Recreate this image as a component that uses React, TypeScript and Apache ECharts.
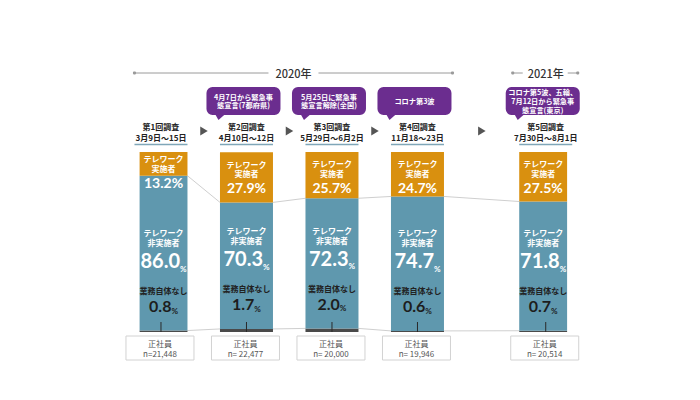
import React, { useEffect, useRef } from 'react';
import * as echarts from 'echarts';

const surveyNames = ['第1回調査', '第2回調査', '第3回調査', '第4回調査', '第5回調査'];
const surveyPeriods = ['3月9日～15日', '4月10日～12日', '5月29日～6月2日', '11月18～23日', '7月30日～8月1日'];
const surveySlots = [0, 1, 2, 3, 4.5];
const teleworkYes = [13.2, 27.9, 25.7, 24.7, 27.5];
const teleworkNo = [86.0, 70.3, 72.3, 74.7, 71.8];
const noWork = [0.8, 1.7, 2.0, 0.6, 0.7];
const respondentTypes = ['正社員', '正社員', '正社員', '正社員', '正社員'];
const sampleSizes = ['n=21,448', 'n= 22,477', 'n= 20,000', 'n= 19,946', 'n= 20,514'];
const events = [
  '',
  '4月7日から緊急事\n態宣言(7都府県)',
  '5月25日に緊急事\n態宣言解除(全国)',
  'コロナ第3波',
  'コロナ第5波、五輪、\n7月12日から緊急事\n態宣言(東京)',
];
const yearLabels = ['2020年', '2021年'];
const yearFirstSurvey = [0, 4];
const yearLastSurvey = [3, 4];

const ORANGE = '#D9900F';
const BLUE = '#5F98AE';
const DARK = '#4A4A4A';
const PURPLE = '#6B2D8F';
const CJK = "'Noto Sans CJK JP', sans-serif";
const NUM = "Lato, 'Noto Sans', sans-serif";
const BAR_W = 53;

export default function App() {
  const ref = useRef<HTMLDivElement>(null);

  useEffect(() => {
    if (!ref.current) return;
    const chart = echarts.init(ref.current, null, { renderer: 'svg' });
    const half = BAR_W / 2;

    // half-slot category axis so the gap before the 2021 survey is wider
    const slotIdx = surveySlots.map((s) => Math.round(s * 2));
    const nCats = slotIdx[slotIdx.length - 1] + 1;
    const cats = Array.from({ length: nCats }, (_, k) => {
      const si = slotIdx.indexOf(k);
      return si >= 0 ? surveyNames[si] : `gap${k}`;
    });
    const spread = (vals: number[]) =>
      Array.from({ length: nCats }, (_, k) => {
        const si = slotIdx.indexOf(k);
        return si >= 0 ? vals[si] : '-';
      });
    const sIdx = (p: any) => slotIdx.indexOf(p.dataIndex);

    const option: any = {
      animation: false,
      grid: { left: 139.6, right: 132.9, top: 152, bottom: 68 },
      xAxis: { type: 'category', data: cats, show: false },
      yAxis: { type: 'value', min: 0, max: 100, show: false },
      series: [
        {
          type: 'bar',
          stack: 'all',
          barWidth: BAR_W,
          itemStyle: { color: DARK },
          data: spread(noWork),
          label: {
            show: true,
            position: 'top',
            distance: 16,
            formatter: (p: any) => `{k|業務自体なし}\n{v|${noWork[sIdx(p)].toFixed(1)}}{p|%}`,
            rich: {
              k: { fontSize: 8, fontWeight: 'bold', color: '#222', fontFamily: CJK, lineHeight: 12, align: 'center' },
              v: { fontSize: 16, fontWeight: 'bold', color: '#1d1d1d', fontFamily: NUM, lineHeight: 18 },
              p: { fontSize: 8, fontWeight: 'bold', color: '#1d1d1d', fontFamily: NUM, lineHeight: 18, verticalAlign: 'bottom' },
            },
          },
          z: 2,
        },
        {
          type: 'bar',
          stack: 'all',
          barWidth: BAR_W,
          itemStyle: { color: BLUE },
          data: spread(teleworkNo),
          label: {
            show: true,
            position: 'insideBottom',
            distance: 58,
            formatter: (p: any) => `{t|テレワーク}\n{t|非実施者}\n{v|${teleworkNo[sIdx(p)].toFixed(1)}}{p|%}`,
            rich: {
              t: { fontSize: 8, fontWeight: 'bold', color: '#fff', fontFamily: CJK, lineHeight: 10, align: 'center' },
              v: { fontSize: 20, fontWeight: 'bold', color: '#fff', fontFamily: NUM, lineHeight: 25 },
              p: { fontSize: 8, fontWeight: 'bold', color: '#fff', fontFamily: NUM, lineHeight: 25, verticalAlign: 'bottom' },
            },
          },
          z: 2,
        },
        {
          type: 'bar',
          stack: 'all',
          barWidth: BAR_W,
          itemStyle: { color: ORANGE },
          data: spread(teleworkYes),
          label: {
            show: true,
            position: 'insideTop',
            distance: 2,
            formatter: (p: any) => {
              const v = teleworkYes[sIdx(p)];
              const lead = v < 20 ? '' : '{sp| }\n';
              return `${lead}{t|テレワーク}\n{t|実施者}\n{v|${v.toFixed(1)}%}`;
            },
            rich: {
              sp: { fontSize: 4, lineHeight: 5, color: 'rgba(0,0,0,0)' },
              t: { fontSize: 8, fontWeight: 'bold', color: '#fff', fontFamily: CJK, lineHeight: 9.8, align: 'center' },
              v: { fontSize: 14, fontWeight: 'bold', color: '#fff', fontFamily: NUM, lineHeight: 17, align: 'center' },
            },
          },
          z: 2,
        },
        {
          type: 'custom',
          z: 1,
          silent: true,
          encode: { x: [0, 1], y: [2, 3, 4, 5] },
          data: slotIdx.slice(0, -1).map((x, i) => [
            x,
            slotIdx[i + 1],
            noWork[i] + teleworkNo[i],
            noWork[i + 1] + teleworkNo[i + 1],
            noWork[i],
            noWork[i + 1],
          ]),
          renderItem: (params: any, api: any) => {
            const a1 = api.coord([api.value(0), api.value(2)]);
            const b1 = api.coord([api.value(1), api.value(3)]);
            const a2 = api.coord([api.value(0), api.value(4)]);
            const b2 = api.coord([api.value(1), api.value(5)]);
            const st = { stroke: '#cfcfcf', lineWidth: 1 };
            return {
              type: 'group',
              children: [
                { type: 'line', shape: { x1: a1[0] + half, y1: a1[1], x2: b1[0] - half, y2: b1[1] }, style: st },
                { type: 'line', shape: { x1: a2[0] + half, y1: a2[1], x2: b2[0] - half, y2: b2[1] }, style: st },
              ],
            };
          },
        },
        {
          type: 'custom',
          z: 5,
          silent: true,
          encode: { x: 0, y: 1 },
          data: slotIdx.map((x) => [x, 0]),
          renderItem: (params: any, api: any) => {
            const p = api.coord([api.value(0), api.value(1)]);
            return {
              type: 'line',
              shape: { x1: p[0], y1: p[1], x2: p[0], y2: p[1] - 10 },
              style: { stroke: '#2a2a2a', lineWidth: 1 },
            };
          },
        },
      ],
    };
    chart.setOption(option);

    const cx = slotIdx.map((x) => chart.convertToPixel({ xAxisIndex: 0 }, x) as number);
    const graphic: any[] = [];

    yearLabels.forEach((label, k) => {
      const f = yearFirstSurvey[k];
      const l = yearLastSurvey[k];
      let x0: number, x1: number, gapL: number, gapR: number, mid: number;
      if (f === l) {
        x0 = cx[f] - 33;
        x1 = cx[f] + 32;
        mid = cx[f];
        gapL = mid - 23;
        gapR = mid + 22;
      } else {
        x0 = cx[f] - half;
        x1 = cx[l] + 35;
        mid = (x0 + x1) / 2;
        gapL = mid - 25;
        gapR = mid + 25;
      }
      const y = 73;
      const st = { stroke: '#9a9a9a', lineWidth: 1 };
      graphic.push({ type: 'line', shape: { x1: x0, y1: y, x2: gapL, y2: y }, style: st });
      graphic.push({ type: 'line', shape: { x1: gapR, y1: y, x2: x1, y2: y }, style: st });
      graphic.push({ type: 'circle', shape: { cx: x0, cy: y, r: 1.6 }, style: { fill: '#9a9a9a' } });
      graphic.push({ type: 'circle', shape: { cx: x1, cy: y, r: 1.6 }, style: { fill: '#9a9a9a' } });
      graphic.push({
        type: 'text',
        x: mid,
        y: y,
        style: { text: label, fill: '#333', font: `500 11px ${CJK}`, align: 'center', verticalAlign: 'middle' },
      });
    });

    surveyNames.forEach((name, i) => {
      const c = cx[i];
      graphic.push({
        type: 'text',
        x: c,
        y: 132,
        style: {
          text: `${name}\n${surveyPeriods[i]}`,
          fill: '#222',
          font: `bold 8px ${CJK}`,
          lineHeight: 11,
          align: 'center',
          verticalAlign: 'middle',
        },
      });
      graphic.push({
        type: 'line',
        shape: { x1: c - half, y1: 144.5, x2: c + half, y2: 144.5 },
        style: { stroke: '#7FA6B8', lineWidth: 1.5 },
      });
      if (i > 0) {
        const ax = (cx[i - 1] + c) / 2;
        const ay = 131;
        graphic.push({
          type: 'polygon',
          shape: { points: [[ax - 3.5, ay - 4.5], [ax + 4, ay], [ax - 3.5, ay + 4.5]] },
          style: { fill: '#555' },
        });
      }
      if (events[i]) {
        const bw = 74;
        const bx = c - 3 - bw / 2;
        const by = 87;
        const bh = 28;
        graphic.push({
          type: 'rect',
          shape: { x: bx, y: by, width: bw, height: bh, r: 6 },
          style: { fill: PURPLE },
        });
        graphic.push({
          type: 'polygon',
          shape: { points: [[bx + 8, by + bh - 2], [bx + 20, by + bh - 2], [bx + 12, by + bh + 5]] },
          style: { fill: PURPLE },
        });
        graphic.push({
          type: 'text',
          x: bx + bw / 2,
          y: by + bh / 2,
          style: {
            text: events[i],
            fill: '#fff',
            font: `bold 7.2px ${CJK}`,
            lineHeight: 8.8,
            align: 'center',
            verticalAlign: 'middle',
          },
        });
      }
      graphic.push({
        type: 'rect',
        shape: { x: c - 35, y: 336, width: 68, height: 24 },
        style: { fill: '#fff', stroke: '#d2d2d2', lineWidth: 1 },
      });
      graphic.push({
        type: 'text',
        x: c - 1,
        y: 348.5,
        style: {
          text: `${respondentTypes[i]}\n${sampleSizes[i]}`,
          fill: '#555',
          font: `8px ${CJK}`,
          lineHeight: 9.8,
          align: 'center',
          verticalAlign: 'middle',
        },
      });
    });

    chart.setOption({ graphic });

    return () => chart.dispose();
  }, []);

  return (
    <div
      ref={ref}
      style={{ position: 'absolute', left: 0, top: 0, width: 700, height: 400, background: '#fff' }}
    />
  );
}
